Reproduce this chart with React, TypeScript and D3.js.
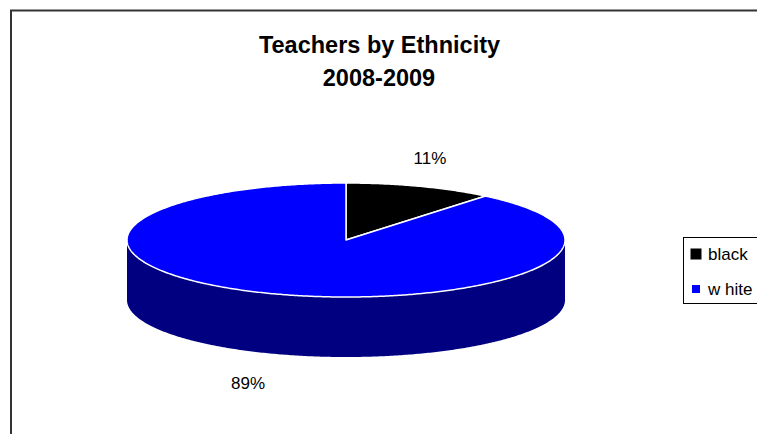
import React from "react";
import * as d3 from "d3";

const categories = ["black", "white"];
const legendLabels = ["black", "w hite"];
const values = [11, 89];
const percentLabels = ["11%", "89%"];
const topColors = ["#000000", "#0000FF"];
const sideColors = ["#000000", "#000080"];
const titleLines = ["Teachers by Ethnicity", "2008-2009"];

const W = 757;
const H = 434;
const cx = 346;
const cy = 240;
const rx = 219;
const ry = 57;
const depth = 60;

function pt(a: number, dy = 0): [number, number] {
  return [cx + rx * Math.sin(a), cy - ry * Math.cos(a) + dy];
}

function arcPoints(a0: number, a1: number, dy = 0): [number, number][] {
  const n = Math.max(2, Math.ceil(Math.abs(a1 - a0) / 0.01));
  const pts: [number, number][] = [];
  for (let i = 0; i <= n; i++) pts.push(pt(a0 + ((a1 - a0) * i) / n, dy));
  return pts;
}

export default function App() {
  const pie = d3.pie<number>().sort(null).value((d) => d);
  const arcs = pie(values);
  const line = d3.line();

  const sides = arcs.map((a, i) => {
    const a0 = Math.max(a.startAngle, Math.PI / 2);
    const a1 = Math.min(a.endAngle, (3 * Math.PI) / 2);
    if (a0 >= a1) return null;
    const top = arcPoints(a0, a1, 0);
    const bottom = arcPoints(a1, a0, depth);
    return (
      <path key={"s" + i} d={line([...top, ...bottom])! + "Z"} fill={sideColors[i]} />
    );
  });

  const tops = arcs.map((a, i) => {
    const pts: [number, number][] = [[cx, cy], ...arcPoints(a.startAngle, a.endAngle, 0)];
    return (
      <path
        key={"t" + i}
        d={line(pts)! + "Z"}
        fill={topColors[i]}
        stroke="#FFFFFF"
        strokeWidth={1.5}
        strokeLinejoin="round"
      />
    );
  });

  const labelPos: [number, number][] = [
    [430, 164],
    [248, 389],
  ];

  return (
    <svg
      width={W}
      height={H}
      style={{ position: "absolute", left: 0, top: 0, display: "block" }}
      fontFamily="'Liberation Sans', Arial, sans-serif"
    >
      <rect x={0} y={0} width={W} height={H} fill="#FFFFFF" />
      <rect x={11} y={10.5} width={800} height={500} fill="none" stroke="#333333" strokeWidth={2} />
      <text x={379.5} y={53} textAnchor="middle" fontSize={23.5} fontWeight="bold" fill="#000">
        {titleLines[0]}
      </text>
      <text x={379} y={86} textAnchor="middle" fontSize={23.5} fontWeight="bold" fill="#000">
        {titleLines[1]}
      </text>
      {sides}
      {tops}
      {arcs.map((a, i) => (
        <text
          key={"l" + i}
          x={labelPos[i][0]}
          y={labelPos[i][1]}
          textAnchor="middle"
          fontSize={17}
          fill="#000"
        >
          {percentLabels[i]}
        </text>
      ))}
      <rect x={683.5} y={237.5} width={120} height={66} fill="#FFFFFF" stroke="#000" strokeWidth={1} />
      {categories.map((c, i) => {
        const y = i === 0 ? 254 : 289;
        const s = i === 0 ? 11 : 8;
        return (
          <g key={c}>
            <rect x={696 - s / 2} y={y - s / 2} width={s} height={s} fill={topColors[i]} />
            <text x={708} y={y + 6} fontSize={17} fill="#000">
              {legendLabels[i]}
            </text>
          </g>
        );
      })}
    </svg>
  );
}
